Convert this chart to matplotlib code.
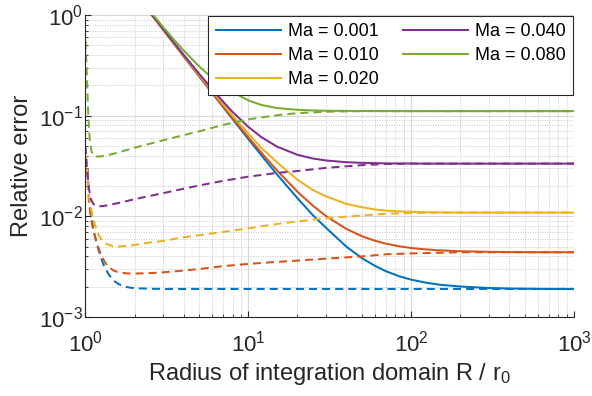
import matplotlib
matplotlib.use("Agg")
import matplotlib.pyplot as plt
from matplotlib.ticker import LogLocator, NullFormatter

plt.rcParams["font.family"] = ["Liberation Sans", "DejaVu Sans"]
plt.rcParams["mathtext.fontset"] = "custom"
plt.rcParams["mathtext.rm"] = "Liberation Sans"
plt.rcParams["mathtext.default"] = "regular"

# --- donnees ---
labels = ["Ma = 0.001", "Ma = 0.010", "Ma = 0.020", "Ma = 0.040", "Ma = 0.080"]
couleurs = ["#0072BD", "#D95319", "#EDB120", "#7E2F8E", "#77AC30"]

# courbes pleines (toutes sur la meme grille R)
R_plein = [2.5, 3, 3.5, 4, 5, 6, 7, 8, 10, 12, 15, 20, 25, 30, 40, 50, 60, 70, 85,
           100, 120, 150, 200, 250, 300, 400, 500, 700, 1000]
plein_001 = [1.045, 0.713, 0.516, 0.39, 0.245, 0.168, 0.122, 0.0925, 0.0586, 0.0406,
             0.0261, 0.0152, 0.0102, 0.0077, 0.0050, 0.00383, 0.00322, 0.00285, 0.00253,
             0.00235, 0.00221, 0.00209, 0.00201, 0.00197, 0.00194, 0.00192, 0.00191,
             0.0019, 0.0019]
plein_010 = [1.047, 0.715, 0.518, 0.392, 0.247, 0.170, 0.124, 0.095, 0.0611, 0.0431,
             0.0286, 0.0176, 0.0127, 0.01005, 0.0075, 0.00633, 0.00572, 0.00535, 0.00503,
             0.00485, 0.00471, 0.00459, 0.0045, 0.00447, 0.00444, 0.00442, 0.00441,
             0.0044, 0.0044]
plein_020 = [1.05, 0.72, 0.525, 0.398, 0.253, 0.176, 0.13, 0.1005, 0.0665, 0.048,
             0.0345, 0.0232, 0.0182, 0.0158, 0.0133, 0.0123, 0.0117, 0.0114, 0.0112,
             0.0111, 0.0110, 0.01095, 0.0109, 0.0109, 0.0109, 0.0109, 0.0109, 0.0109,
             0.0109]
plein_040 = [1.055, 0.725, 0.53, 0.404, 0.26, 0.183, 0.138, 0.109, 0.0775, 0.0614,
             0.0493, 0.0409, 0.0375, 0.0359, 0.0345, 0.0340, 0.0338, 0.0336, 0.0335,
             0.0335, 0.0334, 0.0334, 0.0334, 0.0334, 0.0334, 0.0334, 0.0334, 0.0334,
             0.0334]
plein_080 = [1.086, 0.759, 0.567, 0.446, 0.308, 0.237, 0.197, 0.172, 0.142, 0.128,
             0.119, 0.1145, 0.1127, 0.112, 0.1116, 0.1114, 0.1112, 0.1111, 0.111,
             0.111, 0.111, 0.111, 0.111, 0.111, 0.111, 0.111, 0.111, 0.111, 0.111]

# courbes pointillees
R_tir_001 = [1.03, 1.05, 1.08, 1.12, 1.16, 1.2, 1.25, 1.3, 1.4, 1.5, 1.6, 1.8, 2, 2.5,
             3, 1000]
tir_001 = [0.03, 0.016, 0.0105, 0.0073, 0.0057, 0.0047, 0.0038, 0.0032, 0.0026, 0.00228,
           0.00212, 0.00198, 0.00193, 0.00191, 0.0019, 0.0019]

R_tir_010 = [1.02, 1.05, 1.08, 1.12, 1.18, 1.23, 1.27, 1.33, 1.4, 1.5, 1.6, 1.8, 2, 2.5,
             3, 4, 5, 7, 10, 15, 20, 30, 50, 70, 100, 150, 200, 1000]
tir_010 = [0.03, 0.014, 0.0095, 0.0072, 0.0053, 0.0044, 0.0039, 0.0034, 0.0031, 0.00288,
           0.00278, 0.00271, 0.0027, 0.00273, 0.00278, 0.00289, 0.0030, 0.0032, 0.00337,
           0.00353, 0.00363, 0.0038, 0.0040, 0.0042, 0.00428, 0.00435, 0.0044, 0.0044]

R_tir_020 = [1.01, 1.04, 1.07, 1.1, 1.14, 1.2, 1.27, 1.35, 1.45, 1.55, 1.7, 2, 2.5, 3, 4,
             5, 7, 10, 15, 20, 30, 50, 70, 100, 150, 1000]
tir_020 = [0.04, 0.018, 0.013, 0.0105, 0.0083, 0.0066, 0.0057, 0.0053, 0.0051, 0.0050,
           0.00505, 0.0052, 0.0055, 0.0057, 0.0062, 0.0065, 0.0070, 0.0076, 0.0084,
           0.0089, 0.0096, 0.0102, 0.0106, 0.0108, 0.0109, 0.0109]

R_tir_040 = [1.0, 1.02, 1.05, 1.08, 1.12, 1.17, 1.23, 1.3, 1.4, 1.5, 1.7, 2, 2.5, 3, 4, 5,
             7, 10, 15, 20, 30, 50, 70, 100, 1000]
tir_040 = [0.05, 0.03, 0.019, 0.0148, 0.0132, 0.0127, 0.0126, 0.0127, 0.0130, 0.0133,
           0.0139, 0.0148, 0.0160, 0.0170, 0.0188, 0.0203, 0.0225, 0.0248, 0.0270, 0.0282,
           0.0303, 0.0323, 0.0331, 0.0334, 0.0334]

R_tir_080 = [1.0, 1.02, 1.04, 1.06, 1.09, 1.13, 1.2, 1.3, 1.5, 2, 3, 4, 5, 7, 10, 15, 20,
             30, 50, 70, 100, 1000]
tir_080 = [0.55, 0.25, 0.1, 0.06, 0.044, 0.0395, 0.0392, 0.0398, 0.042, 0.048, 0.057,
           0.064, 0.070, 0.081, 0.092, 0.101, 0.106, 0.1095, 0.111, 0.111, 0.111, 0.111]

pleins = [plein_001, plein_010, plein_020, plein_040, plein_080]
tirets = [(R_tir_001, tir_001), (R_tir_010, tir_010), (R_tir_020, tir_020),
          (R_tir_040, tir_040), (R_tir_080, tir_080)]

# --- figure ---
fig = plt.figure(figsize=(5.92, 3.96), dpi=100)
ax = fig.add_axes([0.1444, 0.1995, 0.8252, 0.7625])

lw = 1.45
handles = []
for i in range(5):
    h, = ax.plot(R_plein, pleins[i], color=couleurs[i], lw=lw, label=labels[i])
    ax.plot(tirets[i][0], tirets[i][1], color=couleurs[i], lw=lw, dashes=(4, 2.5))
    handles.append(h)

ax.set_xscale("log")
ax.set_yscale("log")
ax.set_xlim(1, 1000)
ax.set_ylim(1e-3, 1)

ax.xaxis.set_major_locator(LogLocator(base=10, numticks=10))
ax.yaxis.set_major_locator(LogLocator(base=10, numticks=10))
ax.xaxis.set_minor_locator(LogLocator(base=10, subs=range(2, 10), numticks=20))
ax.yaxis.set_minor_locator(LogLocator(base=10, subs=range(2, 10), numticks=20))
ax.xaxis.set_minor_formatter(NullFormatter())
ax.yaxis.set_minor_formatter(NullFormatter())

ax.grid(True, which="major", color="#d9d9d9", lw=0.8, ls="-")
ax.grid(True, which="minor", color="#c8c8c8", lw=0.7, ls=(0, (1, 1.5)))
ax.set_axisbelow(True)

for s in ["top", "right"]:
    ax.spines[s].set_visible(False)
for s in ["left", "bottom"]:
    ax.spines[s].set_color("#262626")
    ax.spines[s].set_linewidth(0.8)

ax.tick_params(which="both", direction="in", colors="#262626", labelsize=16,
               labelcolor="#262626")
ax.tick_params(which="major", length=4, width=0.8)
ax.tick_params(which="minor", length=2.5, width=0.6)
ax.tick_params(axis="x", pad=10)
ax.tick_params(axis="y", pad=2)

ax.set_xlabel("Radius of integration domain R / r$_0$", fontsize=17, color="#262626",
              labelpad=3)
ax.set_ylabel("Relative error", fontsize=17, color="#262626", labelpad=4)

leg = ax.legend(handles=handles, ncol=2, loc="upper right", fontsize=13,
                frameon=True, fancybox=False, framealpha=1, edgecolor="#262626",
                handlelength=3.6, columnspacing=1.35, handletextpad=0.4,
                borderaxespad=0.05, labelspacing=0.38, borderpad=0.4)
leg.get_frame().set_linewidth(0.8)

plt.savefig("out.png", dpi=100)
